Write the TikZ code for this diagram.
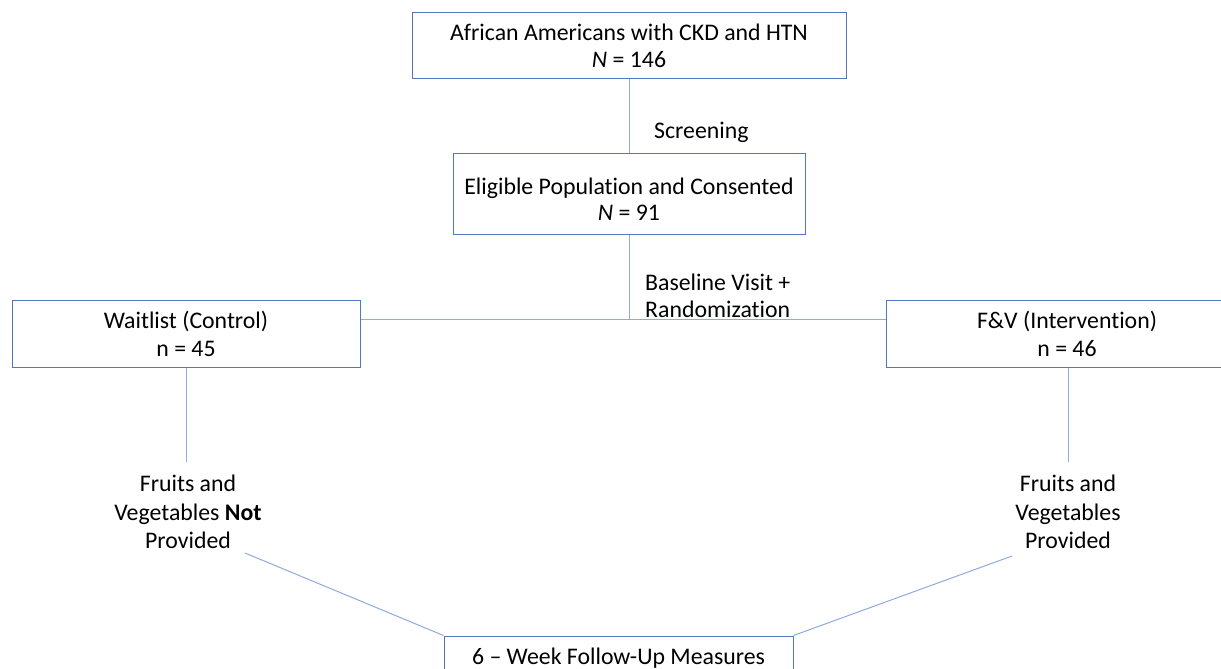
\documentclass[tikz,border=0pt]{standalone}
\usepackage{fontspec}
\setmainfont[Ligatures=NoCommon]{Carlito}
\definecolor{boxc}{RGB}{84,118,186}
\definecolor{linec}{RGB}{143,170,220}
\begin{document}
\begin{tikzpicture}[x=1pt,y=-1pt,
  box/.style={draw=boxc, line width=1pt, fill=white, align=center, inner sep=0pt},
  lbl/.style={align=center, inner sep=0pt},
  conn/.style={draw=linec, line width=1pt},
  every node/.style={font=\fontsize{23.8}{27.5}\selectfont}]
\useasboundingbox (0,0) rectangle (1221,669);
\node[box, minimum width=434pt, minimum height=66pt] (top) at (629,46) {African Americans with CKD and HTN\\\textit{N} = 146};
\node[box, minimum width=352pt, minimum height=81pt] (elig) at (629,193.5) {};
\node[lbl, font=\fontsize{23.8}{26.5}\selectfont] (eligtxt) at (629,199) {Eligible Population and Consented\\\textit{N} = 91};
\node[box, minimum width=348pt, minimum height=67pt] (wait) at (186,334) {Waitlist (Control)\\n = 45};
\node[box, minimum width=362pt, minimum height=67pt] (fv) at (1067,334) {F\&V (Intervention)\\n = 46};
\node[box, minimum width=349pt, minimum height=60pt] (bot) at (618.5,666) {};
\node[lbl, anchor=center] (bottxt) at (618.5,658) {6 -- Week Follow-Up Measures};
\node[lbl, anchor=west] (scr) at (654,132) {Screening};
\node[lbl, anchor=west, align=left] (base) at (645,296) {Baseline Visit +\\Randomization};
\node[lbl, anchor=north, font=\fontsize{23.8}{28.5}\selectfont] (wtext) at (188,475) {Fruits and\\Vegetables \textbf{Not}\\Provided};
\node[lbl, anchor=north, font=\fontsize{23.8}{28.5}\selectfont] (ftext) at (1068,475) {Fruits and\\Vegetables\\Provided};
\coordinate (j) at (629,320);
\coordinate (l1) at (245,553);
\coordinate (r1) at (1012,556);
\draw[conn] (top) -- (elig);
\draw[conn] (elig) -- (j);
\draw[conn] (wait.east |- 0,319) -- (fv.west |- 0,319);
\draw[conn] (wait.south) -- (wait.south |- 0,462);
\draw[conn] (fv.south -| 1068,0) -- (1068,462);
\draw[conn] (l1) -- (bot.north west);
\draw[conn] (r1) -- (bot.north east);
\end{tikzpicture}
\end{document}
